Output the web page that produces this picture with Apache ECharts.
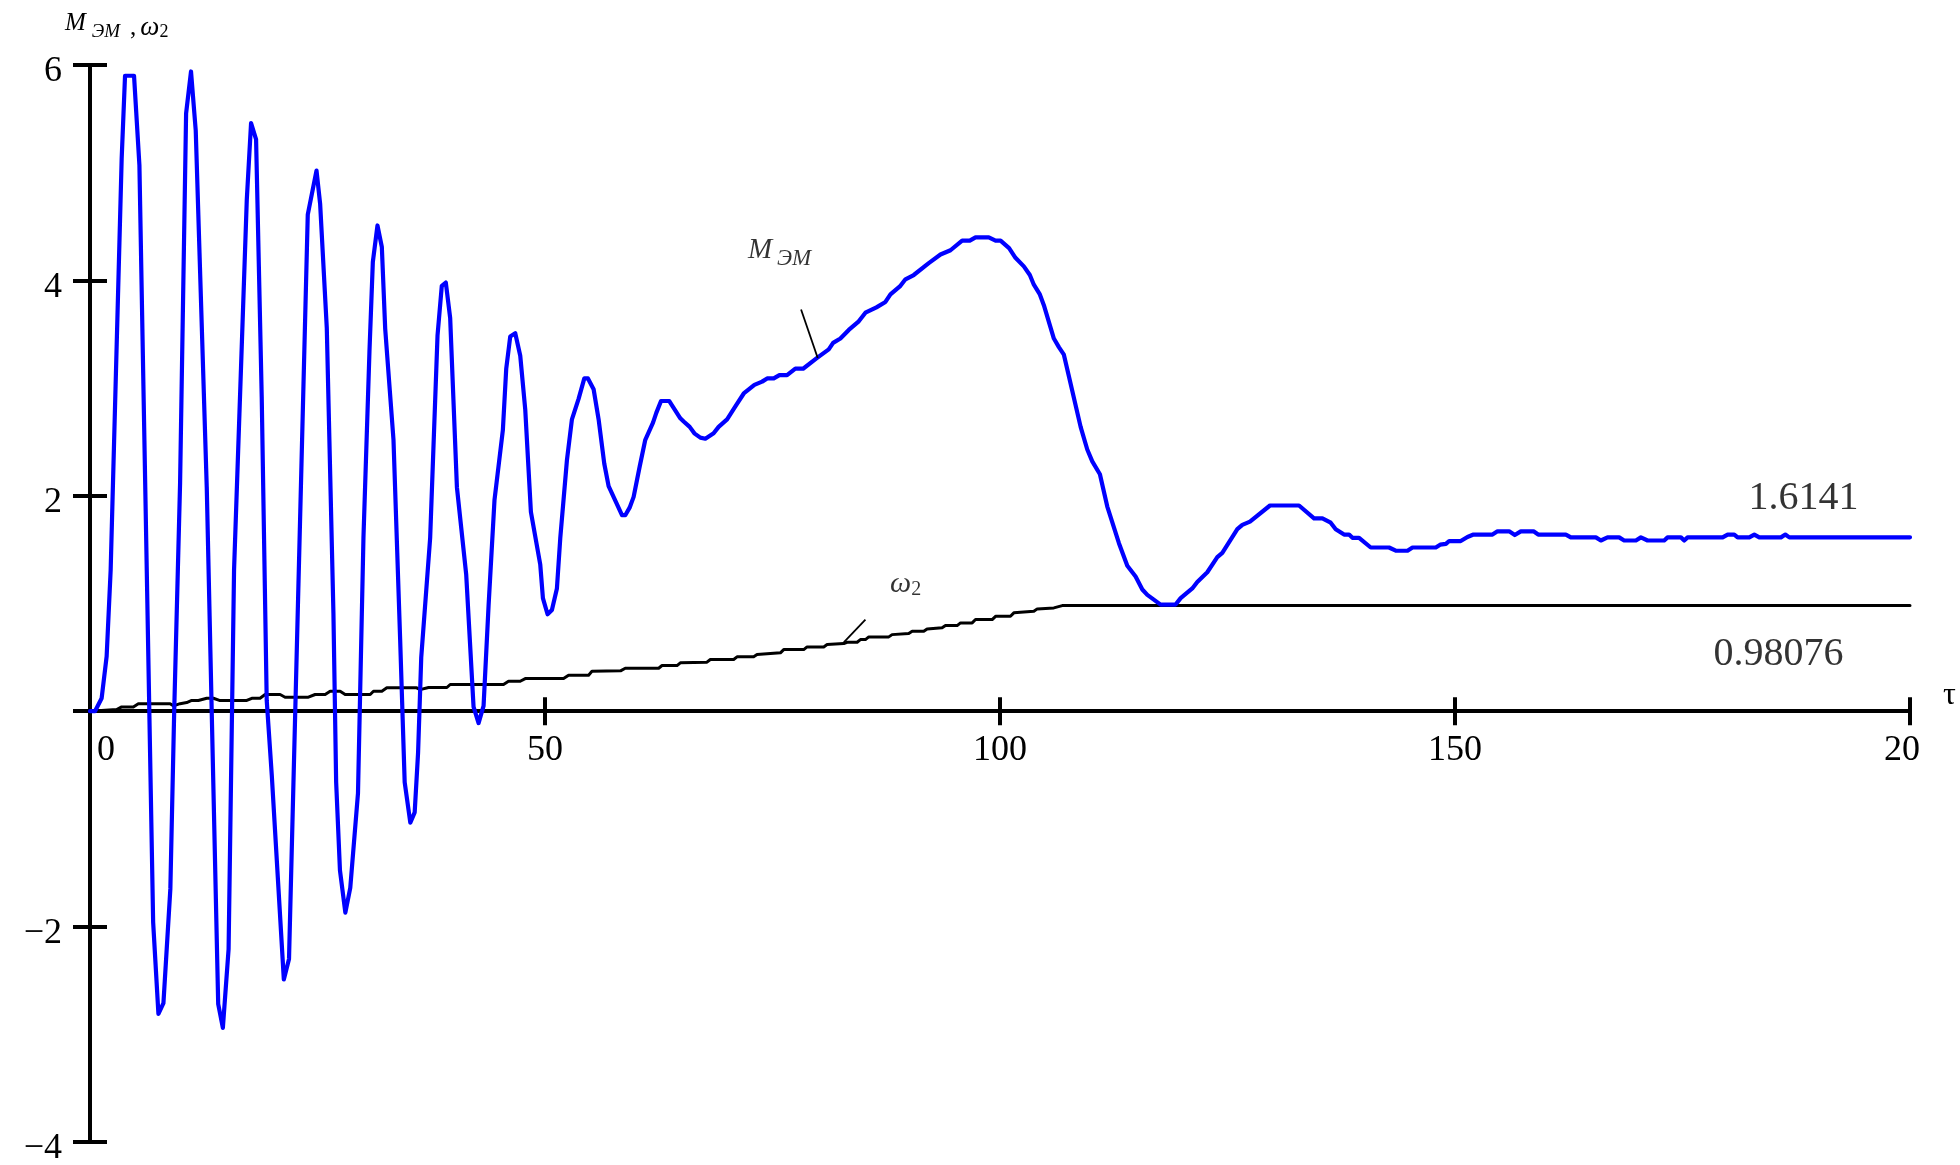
<!DOCTYPE html>
<html><head><meta charset="utf-8">
<script src="https://cdn.jsdelivr.net/npm/echarts@6/dist/echarts.min.js"></script>
<style>html,body{margin:0;padding:0;background:#fff}#c{width:1960px;height:1165px}</style>
</head><body><div id="c"></div>
<script>
// M_ЭМ(τ)
const mT = [0,0.55,1.28,1.83,2.27,3.48,3.85,4.84,5.43,6.94,7.52,8.07,8.83,9.25,9.9,10.56,11.1,11.62,12.83,14.09,14.6,15.23,15.83,17.23,17.7,18.25,18.87,19.42,19.98,21.3,21.87,23.93,24.89,25.29,26.02,26.75,27.05,27.47,28.06,28.6,29.45,30.05,30.71,31.08,31.59,32.07,32.44,33.35,34.08,34.58,35.2,35.68,36.05,36.4,37.38,38.19,38.66,39.1,39.58,40.32,41.34,42.15,42.7,43.25,43.8,44.45,45.37,45.74,46.18,46.73,47.28,47.83,48.45,49.48,49.77,50.28,50.76,51.31,51.68,52.41,52.96,53.69,54.32,54.72,55.34,55.89,56.51,56.99,58.46,58.82,59.3,59.74,60.4,61.02,61.87,62.23,62.75,63.66,64.87,65.24,65.9,66.41,67.07,67.62,68.53,69.08,70.01,70.92,71.84,73.01,73.86,74.41,75.14,75.76,76.6,77.51,78.36,79.9,81.18,81.66,82.46,83.38,84.48,85.21,86.42,87.41,87.96,89.06,89.61,90.52,92.17,93.46,94.56,95.84,96.68,97.31,98.77,99.51,100.06,101.0,101.7,102.62,103.28,103.72,104.38,104.82,105.92,106.47,107.02,107.57,108.86,109.59,110.14,110.98,111.79,113.07,113.99,114.9,115.64,116.19,117.65,119.3,119.85,121.13,121.68,122.78,123.88,124.43,126.08,126.63,127.47,129.67,132.86,134.51,135.43,136.34,136.89,137.81,138.36,138.73,139.46,140.74,142.75,143.49,144.78,145.33,147.89,148.37,149.0,149.36,150.63,151.37,152.03,154.12,154.67,155.95,156.57,157.23,158.63,159.14,162.18,162.73,165.48,166.03,166.76,168.04,168.59,169.88,170.43,171.16,172.99,173.36,174.83,175.19,175.56,179.41,179.96,180.69,181.06,182.34,182.89,183.44,185.82,186.3,186.74,200];
const mV = [0,0,0.12,0.51,1.31,5.13,5.90,5.90,5.07,-1.96,-2.81,-2.71,-1.65,-0.01,2.12,5.55,5.94,5.39,2.08,-2.72,-2.94,-2.21,1.31,4.75,5.46,5.31,2.92,0.10,-0.60,-2.49,-2.30,4.61,5.02,4.71,3.56,0.91,-0.66,-1.48,-1.87,-1.64,-0.76,1.61,3.34,4.17,4.51,4.31,3.55,2.52,0.67,-0.66,-1.035,-0.94,-0.39,0.50,1.61,3.49,3.95,3.98,3.65,2.08,1.27,0.04,-0.11,0.05,0.98,1.96,2.61,3.18,3.48,3.51,3.30,2.80,1.85,1.36,1.05,0.90,0.94,1.14,1.61,2.33,2.71,2.90,3.09,3.09,2.99,2.71,2.30,2.09,1.82,1.82,1.89,1.99,2.27,2.52,2.68,2.77,2.88,2.88,2.72,2.69,2.64,2.58,2.54,2.53,2.58,2.64,2.71,2.83,2.95,3.03,3.06,3.09,3.09,3.12,3.12,3.18,3.18,3.28,3.36,3.42,3.46,3.54,3.62,3.70,3.75,3.80,3.87,3.95,4.01,4.05,4.16,4.24,4.28,4.37,4.37,4.40,4.40,4.37,4.37,4.30,4.21,4.13,4.05,3.96,3.87,3.77,3.46,3.38,3.31,3.11,2.64,2.43,2.32,2.20,1.90,1.56,1.35,1.25,1.13,1.08,0.99,0.99,1.05,1.14,1.20,1.29,1.43,1.47,1.69,1.73,1.76,1.91,1.91,1.79,1.79,1.75,1.69,1.64,1.64,1.61,1.61,1.52,1.52,1.49,1.49,1.52,1.52,1.546,1.553,1.58,1.58,1.618,1.64,1.64,1.67,1.67,1.636,1.67,1.67,1.64,1.64,1.614,1.614,1.585,1.614,1.614,1.585,1.585,1.614,1.585,1.585,1.614,1.614,1.585,1.614,1.614,1.64,1.64,1.614,1.614,1.64,1.614,1.614,1.64,1.614,1.6141];
// ω2(τ)
const wT = [0,2.93,3.48,4.76,5.31,8.8,9.16,9.9,10.63,11.18,11.91,12.83,13.56,14.22,17.23,17.78,18.69,19.24,20.89,21.44,24.0,24.74,25.84,26.39,27.49,28.04,30.79,31.15,32.07,32.62,35.9,36.28,37.2,39.22,39.58,45.44,45.99,47.28,47.83,52.04,52.59,54.79,55.16,58.3,58.82,62.49,62.86,64.51,64.87,67.8,68.17,70.73,71.1,72.93,73.3,75.87,76.23,78.43,78.8,80.63,81.0,82.83,83.2,84.3,84.66,85.21,85.58,87.78,88.14,89.97,90.35,91.62,91.99,93.64,94.01,95.29,95.66,96.94,97.31,99.14,99.51,101.15,101.52,103.72,104.09,105.92,106.84,200];
const wV = [0,0.015,0.04,0.04,0.07,0.07,0.05,0.07,0.08,0.10,0.10,0.12,0.12,0.10,0.10,0.12,0.12,0.155,0.155,0.13,0.13,0.155,0.155,0.185,0.185,0.155,0.155,0.185,0.185,0.217,0.217,0.20,0.22,0.22,0.248,0.248,0.278,0.278,0.303,0.303,0.334,0.334,0.37,0.375,0.399,0.399,0.424,0.424,0.449,0.455,0.48,0.48,0.505,0.505,0.526,0.542,0.572,0.572,0.597,0.597,0.619,0.628,0.64,0.64,0.665,0.665,0.69,0.69,0.711,0.721,0.742,0.742,0.764,0.774,0.795,0.795,0.82,0.82,0.851,0.851,0.881,0.881,0.913,0.928,0.95,0.959,0.98076,0.98076];
const xTicks = [0, 50, 100, 150, 200];
const yTicks = [-4, -2, 0, 2, 4, 6];
const finalM = 1.6141;
const finalW = 0.98076;

const SERIF = '"Liberation Serif","Times New Roman",serif';
const zip = (a, b) => a.map((v, i) => [v, b[i]]);
const xMin = xTicks[0], xMax = xTicks[xTicks.length - 1], xStep = xTicks[1] - xTicks[0];
const yMin = yTicks[0], yMax = yTicks[yTicks.length - 1], yStep = yTicks[1] - yTicks[0];

const chart = echarts.init(document.getElementById('c'), null, {renderer: 'canvas'});
const AXW = 4;
const axisLine = {show: true, onZero: true, lineStyle: {color: '#000', width: AXW}};
const baseX = {type: 'value', min: xMin, max: xMax, interval: xStep, splitLine: {show: false}};
const baseY = {type: 'value', min: yMin, max: yMax, interval: yStep, splitLine: {show: false}};
const X_LABEL_GAP = 21;

chart.setOption({
  animation: false,
  backgroundColor: '#fff',
  title: {
    left: 65, top: 11, padding: 0,
    text: '{m|M}{s|ЭМ}{c|,}{w|ω}{n|2}',
    textStyle: {
      fontWeight: 'normal', color: '#000',
      rich: {
        m: {fontFamily: SERIF, fontStyle: 'italic', fontWeight: 'normal', fontSize: 25, color: '#000', verticalAlign: 'bottom', padding: [0, 0, 5, 0]},
        s: {fontFamily: SERIF, fontStyle: 'italic', fontWeight: 'normal', fontSize: 19, color: '#000', verticalAlign: 'bottom', padding: [0, 0, 0, 6]},
        c: {fontFamily: SERIF, fontWeight: 'normal', fontSize: 25, color: '#000', verticalAlign: 'bottom', padding: [0, 0, 0, 10]},
        w: {fontFamily: SERIF, fontStyle: 'italic', fontWeight: 'normal', fontSize: 27, color: '#000', verticalAlign: 'bottom', padding: [0, 0, 0, 4]},
        n: {fontFamily: SERIF, fontWeight: 'normal', fontSize: 18, color: '#000', verticalAlign: 'bottom'}
      }
    }
  },
  grid: {left: 90, right: 50, top: 65, bottom: 23, containLabel: false, outerBoundsMode: 'none'},
  xAxis: [
    Object.assign({}, baseX, {
      position: 'bottom',
      axisLine: axisLine,
      axisTick: {show: true, length: 14, lineStyle: {color: '#000', width: AXW}},
      axisLabel: {
        show: true, margin: X_LABEL_GAP, color: '#000', fontFamily: SERIF, fontSize: 36,
        showMinLabel: true, showMaxLabel: true,
        formatter: v => v === xMin ? '{o|' + v + '}' : (v === xMax ? '{e|' + String(v).slice(0, 2) + '}' : String(v)),
        rich: {
          o: {fontFamily: SERIF, fontSize: 36, color: '#000', padding: [0, 0, 0, 32]},
          e: {fontFamily: SERIF, fontSize: 36, color: '#000', padding: [0, 16, 0, 0]}
        }
      },
      name: '{t|τ}', nameLocation: 'end', nameGap: 33,
      nameTextStyle: {
        fontFamily: SERIF, fontSize: 32, color: '#000', verticalAlign: 'bottom',
        rich: {t: {fontFamily: SERIF, fontSize: 32, color: '#000', lineHeight: 58, verticalAlign: 'bottom'}}
      }
    }),
    Object.assign({}, baseX, {
      position: 'top',
      axisLine: Object.assign({}, axisLine, {onZeroAxisIndex: 0}),
      axisTick: {show: true, length: 14, lineStyle: {color: '#000', width: AXW}},
      axisLabel: {show: false}
    })
  ],
  yAxis: [
    Object.assign({}, baseY, {
      position: 'left',
      axisLine: axisLine,
      axisTick: {show: true, length: 17, lineStyle: {color: '#000', width: AXW}},
      axisLabel: {
        show: true, margin: 28, color: '#000', fontFamily: SERIF, fontSize: 36,
        showMinLabel: true, showMaxLabel: true,
        formatter: v => v === 0 ? '' : '{a|' + (v < 0 ? '\u2212' + (-v) : v) + '}',
        rich: {a: {fontFamily: SERIF, fontSize: 36, color: '#000', padding: [14, 0, 0, 0]}}
      }
    }),
    Object.assign({}, baseY, {
      position: 'right',
      axisLine: Object.assign({}, axisLine, {onZeroAxisIndex: 0}),
      axisTick: {show: true, length: 17, lineStyle: {color: '#000', width: AXW}},
      axisLabel: {show: false}
    })
  ],
  series: [
    {
      name: 'ω2', type: 'line', xAxisIndex: 0, yAxisIndex: 0,
      data: zip(wT, wV), showSymbol: false, symbol: 'none', silent: true,
      lineStyle: {color: '#000', width: 3, cap: 'round', join: 'round'},
      markLine: {
        silent: true, symbol: 'none', label: {show: false},
        lineStyle: {color: '#000', width: 1.8, type: 'solid'},
        data: [[{coord: [82.83, 0.64]}, {coord: [85.21, 0.85]}]]
      },
      z: 2
    },
    {
      name: 'M ЭМ', type: 'line', xAxisIndex: 0, yAxisIndex: 0,
      data: zip(mT, mV), showSymbol: false, symbol: 'none', silent: true,
      lineStyle: {color: '#0000FF', width: 4.2, cap: 'round', join: 'round'},
      markLine: {
        silent: true, symbol: 'none', label: {show: false},
        lineStyle: {color: '#000', width: 1.8, type: 'solid'},
        data: [[{coord: [78.14, 3.73]}, {coord: [79.97, 3.28]}]]
      },
      z: 3
    },
    {
      name: 'labels', type: 'scatter', xAxisIndex: 0, yAxisIndex: 0,
      symbol: 'circle', symbolSize: 1, silent: true, clip: false,
      itemStyle: {color: 'rgba(0,0,0,0)'},
      label: {
        show: true, position: [0, 0], align: 'left', verticalAlign: 'bottom',
        color: '#000', fontFamily: SERIF, fontSize: 40,
        rich: {
          m: {fontFamily: SERIF, fontStyle: 'italic', fontSize: 29, color: '#000', verticalAlign: 'bottom', padding: [0, 0, 5, 0]},
          s: {fontFamily: SERIF, fontStyle: 'italic', fontSize: 23, color: '#000', verticalAlign: 'bottom', padding: [0, 0, 0, 5]},
          w: {fontFamily: SERIF, fontStyle: 'italic', fontSize: 30, color: '#000', verticalAlign: 'bottom'},
          n: {fontFamily: SERIF, fontSize: 20, color: '#000', verticalAlign: 'bottom'},
          v: {fontFamily: SERIF, fontSize: 40, color: '#000', verticalAlign: 'bottom'}
        }
      },
      data: [
        {value: [72.35, 4.09], label: {formatter: '{m|M}{s|ЭМ}'}},
        {value: [87.97, 1.034], label: {formatter: '{w|ω}{n|2}'}},
        {value: [182.3, 1.785], label: {formatter: '{v|' + finalM + '}'}},
        {value: [178.45, 0.335], label: {formatter: '{v|' + finalW + '}'}}
      ],
      z: 4
    }
  ]
});

// An onZero axis draws its labels at the grid edge; pull them back next to the zero line.
const zeroPx = chart.convertToPixel({yAxisIndex: 0}, 0);
const bottomPx = chart.convertToPixel({yAxisIndex: 0}, yMin);
chart.setOption({xAxis: [{axisLabel: {margin: X_LABEL_GAP - (bottomPx - zeroPx)}}, {}]});
</script>
</body></html>
